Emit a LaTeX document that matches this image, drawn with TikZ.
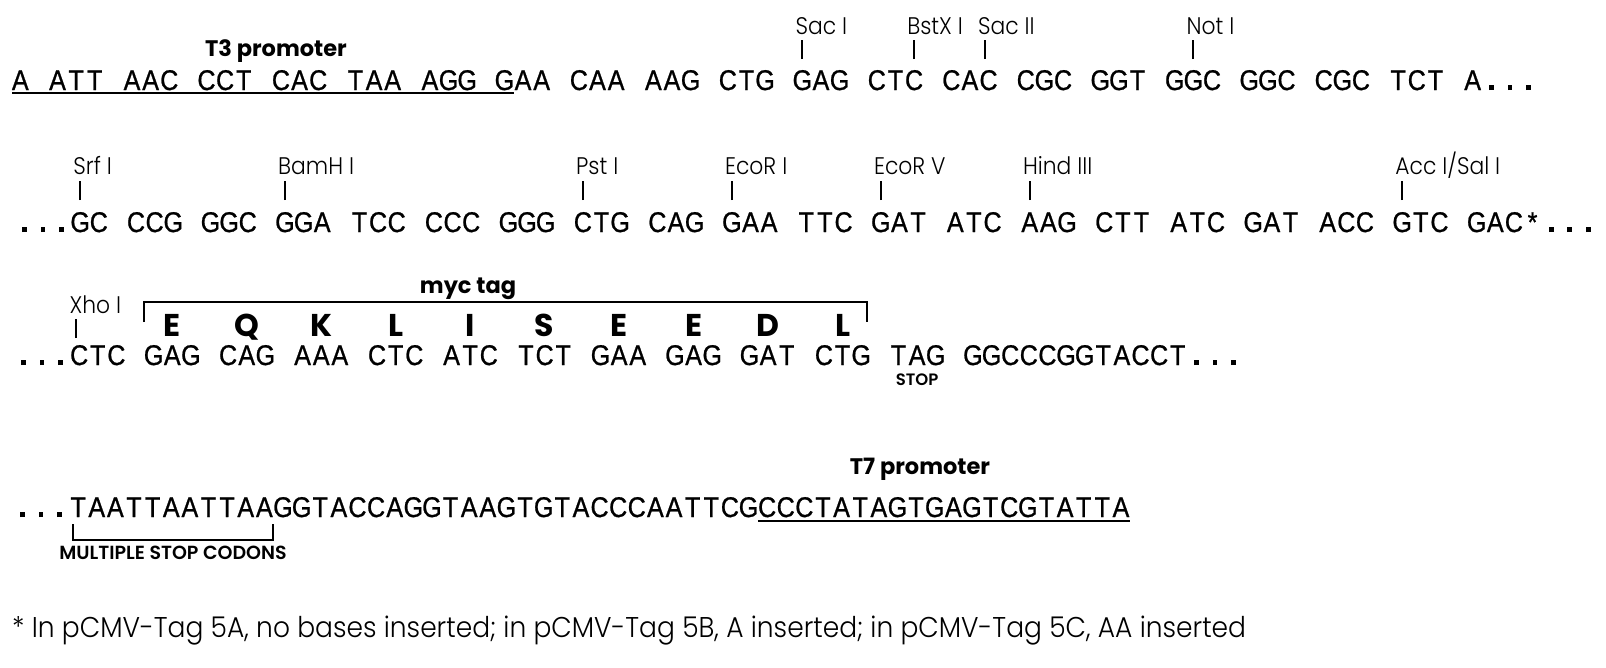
\documentclass[tikz,border=0pt]{standalone}
\usepackage{fontspec}
\newfontfamily\seqfont{Liberation Sans}[FakeStretch=0.88,FakeBold=0.8]
\newfontfamily\lightfont{Poppins Light}[FakeStretch=0.91]
\newfontfamily\notefont{Poppins Light}[FakeStretch=0.927]
\newfontfamily\semifont{Poppins SemiBold}
\newfontfamily\heavyfont{Poppins Bold}
\newcommand\seqpitch{18.62}
\ExplSyntaxOn
\NewDocumentCommand\seqcells{m}{\str_map_inline:nn{#1}{\str_if_eq:nnTF{##1}{.}{\makebox[\seqpitch pt][c]{\rule{4.8pt}{4.8pt}}}{\makebox[\seqpitch pt][c]{##1}}}}
\ExplSyntaxOff
\tikzset{
 seq/.style={anchor=base west, inner sep=0pt, outer sep=0pt, text height=21pt, text depth=0pt, font=\seqfont\fontsize{28.5}{29}\selectfont},
 enz/.style={anchor=base west, inner sep=0pt, font=\lightfont\fontsize{24}{24}\selectfont},
 prom/.style={anchor=base, inner sep=0pt, font=\heavyfont\fontsize{22.5}{23}\selectfont},
 aa/.style={anchor=base, inner sep=0pt, text height=22pt, text depth=0pt, font=\heavyfont\fontsize{31.5}{32}\selectfont},
 smalllab/.style={anchor=base, inner sep=0pt, font=\semifont\fontsize{#1}{#1}\selectfont},
 note/.style={anchor=base west, inner sep=0pt, font=\notefont\fontsize{28.6}{29}\selectfont},
 tick/.style={line width=2.2pt},
 bracket/.style={line width=2.2pt},
 uline/.style={line width=2.5pt},
}
% name, label, x of tick, tick bottom y, label baseline y
\newcommand\site[5]{%
  \coordinate (#1-b) at ({round(#3)},{#4});
  \coordinate (#1-t) at ({round(#3)},{#4-19});
  \node[enz] (#1) at ({#3-7},{#5}) {#2};
  \draw[tick] (#1-b) -- (#1-t);
}
\begin{document}
\begin{tikzpicture}[x=1pt,y=-1pt]
\useasboundingbox (0,0) rectangle (1606,667);
% ---------- row 1
\node[seq] (r1) at (11,90) {\seqcells{A ATT AAC CCT CAC TAA AGG GAA CAA AAG CTG GAG CTC CAC CGC GGT GGC GGC CGC TCT A...}};
\coordinate (u1a) at (12,93);
\coordinate (u1b) at ({11+27*\seqpitch},93);
\draw[uline] (u1a) -- (u1b);
\node[prom] (t3) at (276,56) {T3 promoter};
\site{sacI}{Sac I}{11+42.5*\seqpitch}{59}{34}
\site{bstxI}{BstX I}{11+48.5*\seqpitch}{59}{34}
\site{sacII}{Sac II}{11+52.3*\seqpitch}{59}{34}
\site{notI}{Not I}{11+63.5*\seqpitch}{59}{34}
% ---------- row 2
\node[seq] (r2) at (15,232) {\seqcells{...GC CCG GGC GGA TCC CCC GGG CTG CAG GAA TTC GAT ATC AAG CTT ATC GAT ACC GTC GAC*...}};
\site{srfI}{Srf I}{15+3.5*\seqpitch}{200}{174}
\site{bamhI}{BamH I}{15+14.5*\seqpitch}{200}{174}
\site{pstI}{Pst I}{15+30.5*\seqpitch}{200}{174}
\site{ecorI}{EcoR I}{15+38.5*\seqpitch}{200}{174}
\site{ecorV}{EcoR V}{15+46.5*\seqpitch}{200}{174}
\site{hindIII}{Hind III}{15+54.5*\seqpitch}{200}{174}
\site{accI}{Acc I/Sal I}{15+74.5*\seqpitch}{200}{174}
% ---------- row 3
\node[seq] (r3) at (14,365) {\seqcells{...CTC GAG CAG AAA CTC ATC TCT GAA GAG GAT CTG TAG GGCCCGGTACCT...}};
\site{xhoI}{Xho I}{14+3.35*\seqpitch}{338}{313}
\foreach \l [count=\i] in {E,Q,K,L,I,S,E,E,D,L}
  \node[aa] (aa\i) at ({14+(4*\i+4.5)*\seqpitch},336.5) {\l};
\coordinate (mycLb) at ({14+7*\seqpitch},322);
\coordinate (mycLt) at ({14+7*\seqpitch},302);
\coordinate (mycRt) at (867,302);
\coordinate (mycRb) at (867,322);
\draw[bracket] (mycLb) -- (mycLt) -- (mycRt) -- (mycRb);
\node[prom] (myc) at (468,293) {myc tag};
\node[smalllab=16.5] (stop) at ({14+48.5*\seqpitch},385) {STOP};
% ---------- row 4
\node[seq] (r4) at (13,517) {\seqcells{...TAATTAATTAAGGTACCAGGTAAGTGTACCCAATTCGCCCTATAGTGAGTCGTATTA}};
\coordinate (u4a) at ({13+40*\seqpitch},521);
\coordinate (u4b) at ({13+60*\seqpitch},521);
\draw[uline] (u4a) -- (u4b);
\node[prom] (t7) at (920,474) {T7 promoter};
\coordinate (msLt) at (73,524);
\coordinate (msLb) at (73,540);
\coordinate (msRb) at (273,540);
\coordinate (msRt) at (273,524);
\draw[bracket] (msLt) -- (msLb) -- (msRb) -- (msRt);
\node[smalllab=19] (msc) at (173,559) {MULTIPLE STOP CODONS};
% ---------- footnote
\node[note] (fn) at (12,637) {* In pCMV-Tag 5A, no bases inserted; in pCMV-Tag 5B, A inserted; in pCMV-Tag 5C, AA inserted};
\end{tikzpicture}
\end{document}
